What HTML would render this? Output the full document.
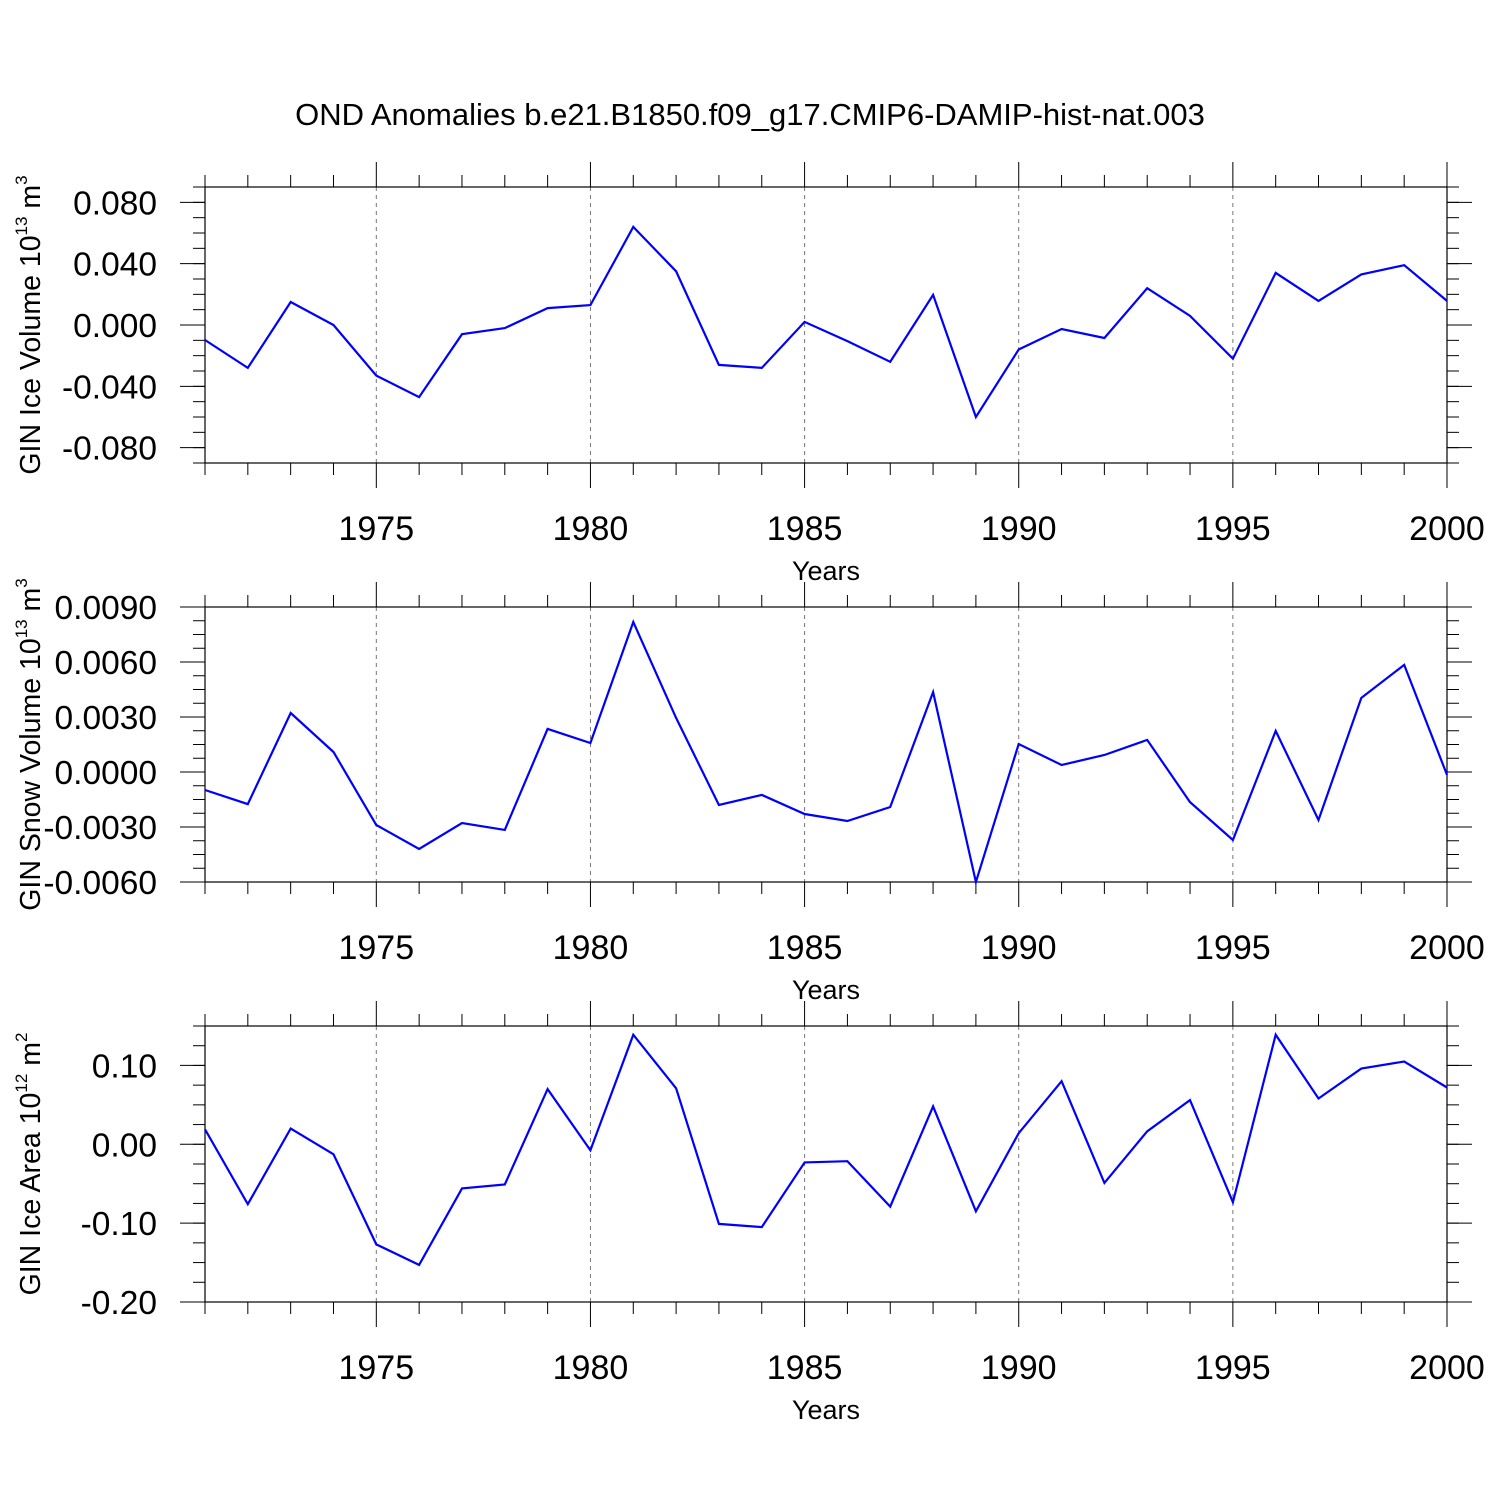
<!DOCTYPE html>
<html><head><meta charset="utf-8"><style>
html,body{margin:0;padding:0;background:#fff;}
svg{display:block;font-family:"Liberation Sans",Arial,sans-serif;}
</style></head><body>
<svg id="chart" width="1500" height="1500" viewBox="0 0 1500 1500" xmlns="http://www.w3.org/2000/svg">
<rect width="1500" height="1500" fill="#fff"/>
<text x="750" y="125" font-size="31" text-anchor="middle">OND Anomalies b.e21.B1850.f09_g17.CMIP6-DAMIP-hist-nat.003</text>
</svg>
<script>
const years = [1971,1972,1973,1974,1975,1976,1977,1978,1979,1980,1981,1982,1983,1984,1985,1986,1987,1988,1989,1990,1991,1992,1993,1994,1995,1996,1997,1998,1999,2000];
const iceVolume = [-0.0098,-0.028,0.015,0.0,-0.033,-0.047,-0.006,-0.002,0.011,0.013,0.064,0.035,-0.026,-0.028,0.002,-0.0105,-0.024,0.0196,-0.060,-0.016,-0.0026,-0.0085,0.024,0.006,-0.022,0.034,0.0157,0.033,0.039,0.0157];
const snowVolume = [-0.00098,-0.00175,0.00322,0.00109,-0.00289,-0.0042,-0.00278,-0.00316,0.00235,0.00158,0.00818,0.00295,-0.0018,-0.00125,-0.00229,-0.00267,-0.00191,0.00436,-0.006,0.00153,0.00038,0.00093,0.00175,-0.00164,-0.00371,0.00224,-0.00262,0.00404,0.00584,-0.00016];
const iceArea = [0.019,-0.076,0.020,-0.0127,-0.127,-0.153,-0.056,-0.051,0.070,-0.0076,0.139,0.071,-0.101,-0.105,-0.023,-0.0215,-0.079,0.048,-0.085,0.014,0.080,-0.049,0.0165,0.056,-0.0735,0.139,0.058,0.096,0.105,0.072];
const xTickLabels = ["1975","1980","1985","1990","1995","2000"];
const iceVolTicks = ["0.080","0.040","0.000","-0.040","-0.080"];
const snowTicks = ["0.0090","0.0060","0.0030","0.0000","-0.0030","-0.0060"];
const areaTicks = ["0.10","0.00","-0.10","-0.20"];

const NS="http://www.w3.org/2000/svg";
const svg=document.getElementById('chart');
function mk(tag,attrs,parent){const e=document.createElementNS(NS,tag);for(const k in attrs)e.setAttribute(k,attrs[k]);(parent||svg).appendChild(e);return e;}
const X0=205,X1=1447,XMIN=1971,XMAX=2000;
const xs=v=>X0+(v-XMIN)/(XMAX-XMIN)*(X1-X0);

const panels=[
 {name:'ice-volume',top:187,bot:463,min:-0.09,max:0.09,vals:iceVolume,ticks:iceVolTicks,minorStep:0.01,title:['GIN Ice Volume 10','13',' m','3']},
 {name:'snow-volume',top:607,bot:882,min:-0.006,max:0.009,vals:snowVolume,ticks:snowTicks,minorStep:0.00075,title:['GIN Snow Volume 10','13',' m','3']},
 {name:'ice-area',top:1026,bot:1302,min:-0.2,max:0.15,vals:iceArea,ticks:areaTicks,minorStep:0.025,title:['GIN Ice Area 10','12',' m','2']}
];
panels.forEach(p=>{
 const g=mk('g',{});
 
 
 const ys=v=>p.bot-(v-p.min)/(p.max-p.min)*(p.bot-p.top);
 xTickLabels.forEach(t=>{const x=xs(+t);if(+t<XMAX){const l=mk('line',{x1:x,x2:x,y1:p.top,y2:p.bot,stroke:'#777','stroke-width':1,'stroke-dasharray':'4,4'},g);
  
  }});
 for(let y=XMIN;y<=XMAX;y++){const x=xs(y);const major=y%5===0;const L=major?25:12;
  mk('line',{x1:x,x2:x,y1:p.bot,y2:p.bot+L,stroke:'#000','stroke-width':1},g);
  mk('line',{x1:x,x2:x,y1:p.top,y2:p.top-L,stroke:'#000','stroke-width':1},g);}
 xTickLabels.forEach(t=>{const tx=mk('text',{x:xs(+t),y:p.bot+77,'font-size':34,'text-anchor':'middle'},g);tx.textContent=t;
  
  });
 const xt=mk('text',{x:826,y:p.bot+117,'font-size':27,'text-anchor':'middle'},g);xt.textContent='Years';
 
 
 const n=Math.round((p.max-p.min)/p.minorStep);
 for(let i=0;i<=n;i++){const v=p.min+i*p.minorStep;const y=ys(v);
  mk('line',{x1:X0-12,x2:X0,y1:y,y2:y,stroke:'#000','stroke-width':1},g);
  mk('line',{x1:X1,x2:X1+12,y1:y,y2:y,stroke:'#000','stroke-width':1},g);}
 p.ticks.forEach(t=>{const y=ys(parseFloat(t));
  mk('line',{x1:X0-25,x2:X0,y1:y,y2:y,stroke:'#000','stroke-width':1},g);
  mk('line',{x1:X1,x2:X1+25,y1:y,y2:y,stroke:'#000','stroke-width':1},g);
  const tx=mk('text',{x:157,y:y+12,'font-size':33.5,'text-anchor':'end'},g);tx.textContent=t;
  
  });
 mk('rect',{x:X0,y:p.top,width:X1-X0,height:p.bot-p.top,fill:'none',stroke:'#000','stroke-width':1.2},g);
 const cy=(p.top+p.bot)/2;
 const yt=mk('text',{x:0,y:0,'font-size':28.5,'text-anchor':'middle',transform:`translate(40,${cy}) rotate(-90)`},g);
 
 
 const parts=p.title;
 const t0=mk('tspan',{},yt);t0.textContent=parts[0];
 const t1=mk('tspan',{'font-size':17,dy:-13},yt);t1.textContent=parts[1];
 const t2=mk('tspan',{dy:13},yt);t2.textContent=parts[2];
 const t3=mk('tspan',{'font-size':17,dy:-13},yt);t3.textContent=parts[3];
 const d=p.vals.map((v,i)=>(i?'L':'M')+xs(years[i]).toFixed(1)+','+ys(v).toFixed(1)).join(' ');
 const path=mk('path',{d:d,fill:'none',stroke:'#0000ff','stroke-width':2.2,'stroke-linejoin':'miter'},g);
 
 
});
</script>
</body></html>
